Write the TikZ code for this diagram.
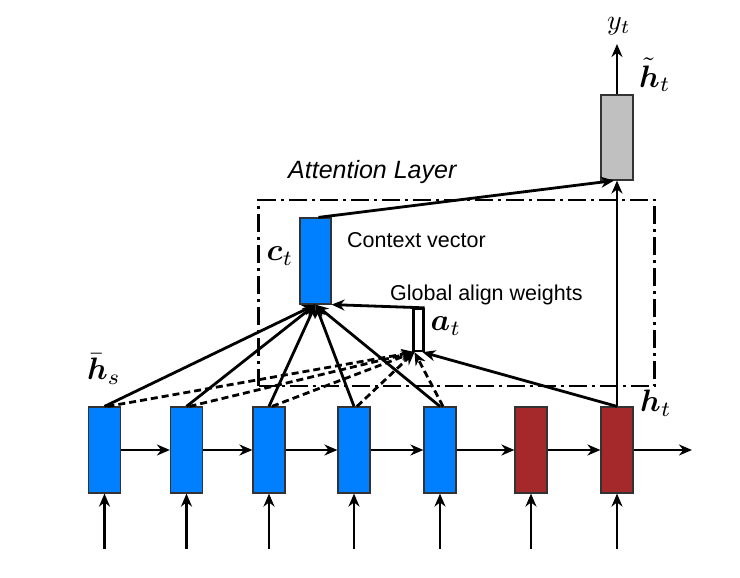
\documentclass[tikz,border=0pt]{standalone}
\usepackage{amsmath}
\usepackage{bm}
\usepackage{fontspec}
\newfontfamily\hv{Liberation Sans}
\usetikzlibrary{arrows.meta}
\definecolor{cblue}{RGB}{0,128,255}
\definecolor{cred}{RGB}{165,40,42}
\definecolor{cgray}{RGB}{192,192,192}
\newcommand{\mylabelmath}[2][3.1]{\scalebox{#1}{$#2$}}
\begin{document}
\begin{tikzpicture}[x=1pt,y=-1pt,
  cell/.style={draw=black!80,line width=1.2pt,minimum width=32pt,minimum height=86pt,inner sep=0pt},
  enc/.style={cell,fill=cblue},
  dec/.style={cell,fill=cred},
  arr/.style={line width=2.8pt,-{Stealth[length=13pt,width=11pt]}},
  darr/.style={arr,dash pattern=on 7pt off 4pt},
  lbl/.style={font=\fontsize{21.5}{26}\selectfont\hv,inner sep=0pt},
  mlbl/.style={inner sep=0pt}]
\useasboundingbox (0,0) rectangle (740,578);
% attention frame
\node[draw,line width=2.5pt,dash pattern=on 18pt off 5pt on 3pt off 5pt,minimum width=396pt,minimum height=186pt,inner sep=0pt] (frame) at (456.5,293) {};
\node[anchor=west,font=\fontsize{25}{30}\selectfont\hv\itshape,inner sep=0pt] (attl) at (288,172) {Attention Layer};
% encoder / decoder cells
\node[enc] (e1) at (104.5,450) {};
\node[enc] (e2) at (186.5,450) {};
\node[enc] (e3) at (269,450) {};
\node[enc] (e4) at (354,450) {};
\node[enc] (e5) at (440,450) {};
\node[dec] (d1) at (531,450) {};
\node[dec] (d2) at (617,450) {};
\coordinate (dend) at (692,450);
% inputs
\foreach \n in {e1,e2,e3,e4,e5,d1,d2}{
  \coordinate (in-\n) at ([yshift=-55pt]\n.south);
  \draw[arr] (in-\n) -- (\n.south);
}
% recurrent arrows
\draw[arr] (e1) -- (e2);
\draw[arr] (e2) -- (e3);
\draw[arr] (e3) -- (e4);
\draw[arr] (e4) -- (e5);
\draw[arr] (e5) -- (d1);
\draw[arr] (d1) -- (d2);
\draw[arr] (d2) -- (dend);
% context vector
\node[cell,fill=cblue,minimum width=31pt,minimum height=86pt] (c) at (315.5,261) {};
% attention weights
\node[draw,line width=2.3pt,fill=white,minimum width=10pt,minimum height=42pt,inner sep=0pt] (a) at (418.5,330) {};
% output cell
\node[cell,fill=cgray,minimum height=85pt] (g) at (617,137.5) {};
\coordinate (yout) at (617,44);
% connections
\foreach \n in {e1,e2,e3,e4,e5}{
  \draw[arr] (\n.north) -- (c.south);
  \draw[darr] ([xshift=3pt]\n.north) -- ([xshift=-4pt]a.south);
}
\draw[arr] (d2.north) -- ([xshift=4pt]a.south);
\draw[arr] (a.north east) -- (c.south east);
\draw[arr] (d2.north) -- (g.south);
\draw[arr] ([xshift=3pt]c.north) -- ([xshift=-3pt]g.south);
\draw[arr] (g.north) -- (yout);
% labels
\node[lbl,anchor=west] (cvl) at (347,240) {Context vector};
\node[lbl,anchor=west] (gaw) at (390,295) {Global align weights};
\node[mlbl] (ctl) at (280,256) {\mylabelmath{\bm{c}_t}};
\node[mlbl] (atl) at (446,326) {\mylabelmath{\bm{a}_t}};
\node[mlbl] (hsl) at (104,369) {\mylabelmath{\bar{\bm{h}}_s}};
\node[mlbl] (htl) at (656,403) {\mylabelmath{\bm{h}_t}};
\node[mlbl] (htt) at (655,75) {\mylabelmath{\tilde{\bm{h}}_t}};
\node[mlbl] (ytl) at (619,26) {\mylabelmath[2.8]{y_t}};
\end{tikzpicture}
\end{document}
